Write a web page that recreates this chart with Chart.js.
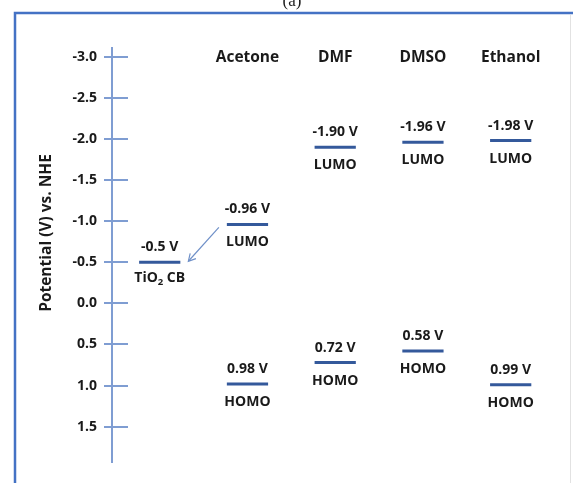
<!DOCTYPE html>
<html><head><meta charset="utf-8">
<script src="https://cdn.jsdelivr.net/npm/chart.js@4"></script>
<style>html,body{margin:0;padding:0;background:#fff}#wrap{width:573px;height:483px;position:relative}</style>
</head><body><div id="wrap"><canvas id="c" width="573" height="483"></canvas></div>
<script>
// ---- data ----
const solvents = ['Acetone', 'DMF', 'DMSO', 'Ethanol'];
const lumoValues = [-0.96, -1.90, -1.96, -1.98];
const homoValues = [0.98, 0.72, 0.58, 0.99];
const tio2Value = -0.5;
const tio2Name = ['TiO', '2', ' CB'];
const yTickValues = [-3.0, -2.5, -2.0, -1.5, -1.0, -0.5, 0.0, 0.5, 1.0, 1.5];
const yTitle = 'Potential (V) vs. NHE';
const panelLabel = '(a)';

// ---- style ----
const FONT = '"Open Sans", Lato, sans-serif';
const LEVEL_COLOR = '#34599b';
const AXIS_COLOR = '#7f9dd2';
const FRAME_COLOR = '#4472c4';
const TEXT_COLOR = '#1a1a1a';
const HALF = 0.235;

// build level list
const levels = [{ cat: 0, v: tio2Value, text: tio2Value.toFixed(1) + ' V', name: null }];
solvents.forEach((s, i) => {
  levels.push({ cat: i + 1, v: lumoValues[i], text: lumoValues[i].toFixed(2) + ' V', name: 'LUMO' });
  levels.push({ cat: i + 1, v: homoValues[i], text: homoValues[i].toFixed(2) + ' V', name: 'HOMO' });
});

const datasets = levels.map(l => ({
  data: [{ x: l.cat - HALF, y: l.v }, { x: l.cat + HALF, y: l.v }],
  borderColor: LEVEL_COLOR,
  borderWidth: 3,
  pointRadius: 0,
  fill: false,
  borderCapStyle: 'butt'
}));

const decor = {
  id: 'decor',
  afterDraw(chart) {
    const { ctx, chartArea } = chart;
    const xs = chart.scales.x, ys = chart.scales.y;
    ctx.save();
    // inner part of tick marks
    ctx.strokeStyle = AXIS_COLOR; ctx.lineWidth = 2;
    yTickValues.forEach(v => {
      const y = Math.round(ys.getPixelForValue(v));
      ctx.beginPath(); ctx.moveTo(chartArea.left, y); ctx.lineTo(chartArea.left + 16, y); ctx.stroke();
    });
    // headers
    ctx.fillStyle = TEXT_COLOR;
    ctx.textAlign = 'center'; ctx.textBaseline = 'middle';
    ctx.font = 'bold 15.5px ' + FONT;
    const hy = ys.getPixelForValue(yTickValues[0]) + 1;
    solvents.forEach((s, i) => ctx.fillText(s, xs.getPixelForValue(i + 1), hy));
    // level labels
    const LF = 'bold 14px ' + FONT;
    const SF = 'bold 9.5px ' + FONT;
    ctx.font = LF;
    levels.forEach(l => {
      const x = xs.getPixelForValue(l.cat), y = ys.getPixelForValue(l.v);
      ctx.textAlign = 'center';
      ctx.fillText(l.text, x, y - 15);
      if (l.name) {
        ctx.fillText(l.name, x, y + 18);
      } else {
        const w0 = ctx.measureText(tio2Name[0]).width;
        ctx.font = SF;
        const w1 = ctx.measureText(tio2Name[1]).width;
        ctx.font = LF;
        const w2 = ctx.measureText(tio2Name[2]).width;
        const sx = x - (w0 + w1 + w2) / 2;
        ctx.textAlign = 'left';
        ctx.fillText(tio2Name[0], sx, y + 16);
        ctx.font = SF;
        ctx.fillText(tio2Name[1], sx + w0, y + 20);
        ctx.font = LF;
        ctx.fillText(tio2Name[2], sx + w0 + w1, y + 16);
      }
    });
    // arrow from acetone LUMO to TiO2 CB
    const x1 = xs.getPixelForValue(1 - HALF) - 8, y1 = ys.getPixelForValue(lumoValues[0]) + 3;
    const x2 = xs.getPixelForValue(0 + HALF) + 8, y2 = ys.getPixelForValue(tio2Value) - 1;
    ctx.strokeStyle = '#6f90c8'; ctx.lineWidth = 1.2;
    ctx.beginPath(); ctx.moveTo(x1, y1); ctx.lineTo(x2, y2); ctx.stroke();
    const ang = Math.atan2(y2 - y1, x2 - x1);
    ctx.beginPath();
    ctx.moveTo(x2 - 8 * Math.cos(ang - 0.5), y2 - 8 * Math.sin(ang - 0.5));
    ctx.lineTo(x2, y2);
    ctx.lineTo(x2 - 8 * Math.cos(ang + 0.5), y2 - 8 * Math.sin(ang + 0.5));
    ctx.stroke();
    // y title
    ctx.save();
    ctx.translate(47, 233); ctx.rotate(-Math.PI / 2);
    ctx.fillStyle = TEXT_COLOR; ctx.textAlign = 'center'; ctx.textBaseline = 'middle';
    ctx.font = 'bold 15.5px ' + FONT;
    ctx.fillText(yTitle, 0, 0);
    ctx.restore();
    // frame
    ctx.strokeStyle = FRAME_COLOR; ctx.lineWidth = 2.5;
    ctx.beginPath(); ctx.moveTo(15, 483); ctx.lineTo(15, 13); ctx.lineTo(573, 13); ctx.stroke();
    ctx.strokeStyle = '#e2e2e2'; ctx.lineWidth = 1;
    ctx.beginPath(); ctx.moveTo(570.5, 15); ctx.lineTo(570.5, 483); ctx.stroke();
    // panel label
    ctx.fillStyle = TEXT_COLOR; ctx.textAlign = 'center'; ctx.textBaseline = 'alphabetic';
    ctx.font = '17px "Liberation Serif", serif';
    ctx.fillText(panelLabel, 292, 6);
    ctx.restore();
  }
};

new Chart(document.getElementById('c'), {
  type: 'line',
  data: { datasets },
  options: {
    responsive: false,
    animation: false,
    devicePixelRatio: 1,
    layout: { padding: { top: 48, bottom: 21, left: 0, right: 18 } },
    plugins: { legend: { display: false }, tooltip: { enabled: false } },
    scales: {
      x: { type: 'linear', display: false, min: -0.544, max: 4.505 },
      y: {
        type: 'linear', reverse: true, min: -3.106, max: 1.93,
        afterBuildTicks: s => { s.ticks = yTickValues.map(v => ({ value: v })); },
        afterFit: s => { s.width = 112; },
        ticks: {
          autoSkip: false, padding: 7, color: TEXT_COLOR,
          font: { family: FONT, size: 14, weight: 'bold' },
          callback: v => Number(v).toFixed(1)
        },
        grid: { drawOnChartArea: false, tickLength: 8, color: AXIS_COLOR, lineWidth: 2 },
        border: { color: AXIS_COLOR, width: 2 }
      }
    }
  },
  plugins: [decor]
});
</script></body></html>
